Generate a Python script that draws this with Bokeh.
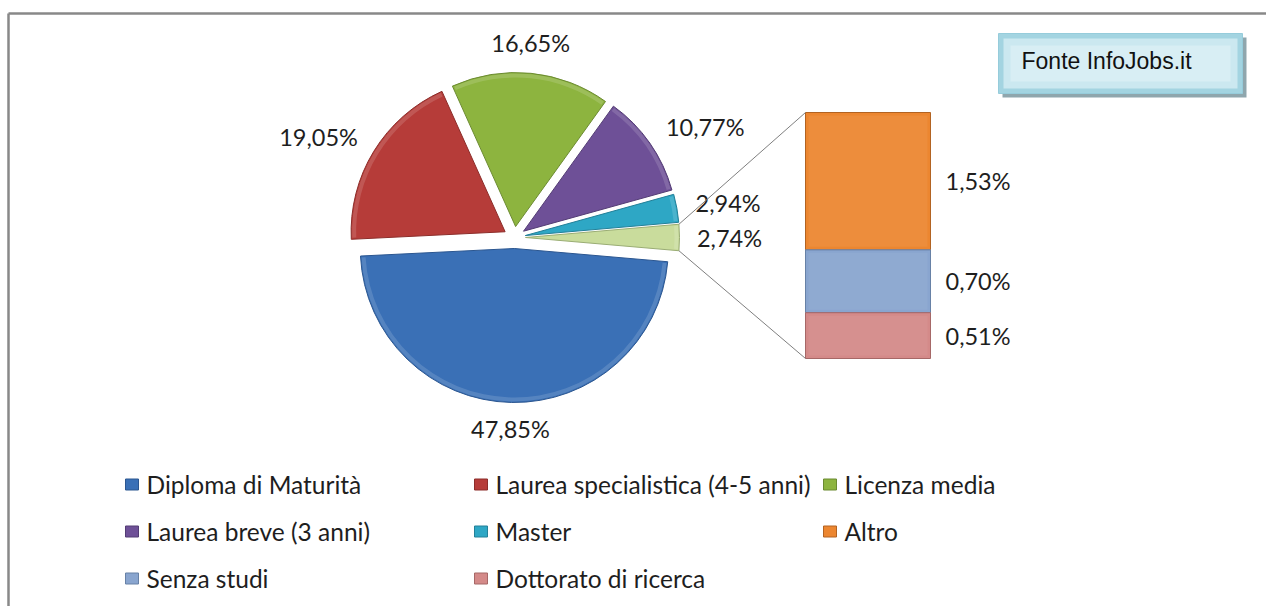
import math
from bokeh.plotting import figure
from bokeh.models import Range1d
from bokeh.embed import file_html
from bokeh.resources import INLINE
from bokeh.core.properties import value

# ---------------- data ----------------
pie_names = ["Diploma di Maturità", "Laurea specialistica (4-5 anni)", "Licenza media",
             "Laurea breve (3 anni)", "Master"]
pie_values = [47.85, 19.05, 16.65, 10.77, 2.94]
other_value = 2.74
bar_names = ["Altro", "Senza studi", "Dottorato di ricerca"]
bar_values = [1.53, 0.70, 0.51]
legend_order = ["Diploma di Maturità", "Laurea specialistica (4-5 anni)", "Licenza media",
                "Laurea breve (3 anni)", "Master", "Altro", "Senza studi", "Dottorato di ricerca"]
source_note = "Fonte InfoJobs.it"

# ---------------- styles ----------------
pie_colors = ["#3A70B6", "#B63C39", "#8DB43F", "#6E5097", "#2EA7C5"]
pie_edges = ["#2B5690", "#8C2D2A", "#6B8A31", "#533C74", "#238098"]
other_color = "#C9DC9C"
other_edge = "#9AAD74"
bar_colors = ["#EC8630", "#89A5CF", "#D48A89"]
bar_edges = ["#B26322", "#6781A6", "#A66867"]
label_nudge = [(0, 0), (-7, 0), (-6, -3), (9, -1), (2, 0), (0, 0)]  # screen px

W, H = 1266, 606
FONT = "Lato"
LABEL_SIZE = "23.5px"
LEGEND_SIZE = "24.5px"
TEXT_COLOR = "#1E1E1E"


def sy(y):
    """screen y (down) -> data y (up)"""
    return H - y


def fmt(v):
    return f"{v:.2f}%".replace(".", ",")


p = figure(width=W, height=H, output_backend="svg", toolbar_location=None,
           x_range=Range1d(0, W), y_range=Range1d(0, H),
           x_axis_location=None, y_axis_location=None, min_border=0)
p.grid.visible = False
p.outline_line_color = None
p.background_fill_color = "white"
p.border_fill_color = "white"

# chart-area frame (top and left edges visible)
p.segment(x0=[8, 8], y0=[sy(13), sy(13)], x1=[W, 8], y1=[sy(13), 0],
          line_color="#888888", line_width=2.5)

# ---------------- pie ----------------
cx, cy = 514, sy(237)
R = 154
EXP = 11

half = other_value / 100 * math.pi
wedges = [(other_value, other_color, other_edge, -half, half)]
a = half
for v, c, e in zip(pie_values[::-1], pie_colors[::-1], pie_edges[::-1]):
    span = v / 100 * 2 * math.pi
    wedges.append((v, c, e, a, a + span))
    a += span
# order wedges as pie_values + other for labels
wedges = wedges[1:][::-1] + [wedges[0]]

xs, ys, st, en, fc, lc, mids = [], [], [], [], [], [], []
for v, c, e, s0, s1 in wedges:
    m = (s0 + s1) / 2
    mids.append(m)
    xs.append(cx + EXP * math.cos(m))
    ys.append(cy + EXP * math.sin(m))
    st.append(s0)
    en.append(s1)
    fc.append(c)
    lc.append(e)
p.wedge(x=xs, y=ys, radius=R, start_angle=st, end_angle=en,
        fill_color=fc, line_color=lc, line_width=1)
# subtle inner highlight to imitate bevel
p.annular_wedge(x=xs, y=ys, inner_radius=R - 5, outer_radius=R - 1,
                start_angle=[s + 0.01 for s in st], end_angle=[e - 0.01 for e in en],
                fill_color="white", fill_alpha=0.14, line_color=None)

# pie labels
all_vals = pie_values + [other_value]
lx, ly, lt = [], [], []
for v, m, (nx, ny) in zip(all_vals, mids, label_nudge):
    txt = fmt(v)
    ux, uy = math.cos(m), math.sin(m)
    w = 13.2 * len(txt)
    h = 20
    r0 = R + EXP + 17
    lx.append(cx + r0 * ux + w / 2 * ux + nx)
    ly.append(cy + r0 * uy + h / 2 * uy - ny)
    lt.append(txt)
p.text(x=lx, y=ly, text=lt, text_align="center", text_baseline="middle",
       text_font=value(FONT), text_font_size=LABEL_SIZE, text_color=TEXT_COLOR)

# ---------------- bar of pie ----------------
bx0, bx1 = 805, 930
b_bottom = sy(358)
k = 246 / other_value
y0 = b_bottom
tops, bots = [], []
for v in bar_values[::-1]:
    bots.append(y0)
    y0 += v * k
    tops.append(y0)
tops, bots = tops[::-1], bots[::-1]
p.quad(left=bx0, right=bx1, bottom=bots, top=tops,
       fill_color=bar_colors, line_color=bar_edges, line_width=1)
p.quad(left=bx0 + 3, right=bx1 - 3, bottom=[b + 3 for b in bots], top=[t - 3 for t in tops],
       fill_color="white", fill_alpha=0.06, line_color=None)
p.text(x=[945] * 3, y=[(t + b) / 2 for t, b in zip(tops, bots)],
       text=[fmt(v) for v in bar_values], text_align="left", text_baseline="middle",
       text_font=value(FONT), text_font_size=LABEL_SIZE, text_color=TEXT_COLOR)

# connector lines
ox = cx + EXP + R * math.cos(half)
p.segment(x0=[ox, ox], y0=[cy + R * math.sin(half), cy - R * math.sin(half)],
          x1=[bx0, bx0], y1=[max(tops), min(bots)],
          line_color="#7F7F7F", line_width=1)

# ---------------- legend ----------------
color_of = dict(zip(pie_names, pie_colors))
color_of.update(dict(zip(bar_names, bar_colors)))
edge_of = dict(zip(pie_names, pie_edges))
edge_of.update(dict(zip(bar_names, bar_edges)))
col_x = [125, 474, 823]
row_y = [484, 531, 578]
mx, my, mc, me, tx, ty = [], [], [], [], [], []
for i, name in enumerate(legend_order):
    r, c = divmod(i, 3)
    mx.append(col_x[c] + 6.5)
    my.append(sy(row_y[r]))
    mc.append(color_of[name])
    me.append(edge_of[name])
    tx.append(col_x[c] + 21)
    ty.append(sy(row_y[r]))
p.rect(x=mx, y=my, width=13, height=11, fill_color=mc, line_color=me, line_width=1)
p.text(x=tx, y=ty, text=legend_order, text_align="left", text_baseline="middle",
       text_font=value(FONT), text_font_size=LEGEND_SIZE, text_color=TEXT_COLOR)

# ---------------- source box ----------------
p.quad(left=1002, right=1246, top=sy(37), bottom=sy(97), fill_color="#8FA6AD", line_color=None)
p.quad(left=998, right=1242, top=sy(33), bottom=sy(93), fill_color="#A3D4E1", line_color="#96CCDB")
p.quad(left=1003, right=1237, top=sy(38), bottom=sy(88), fill_color="#CBE8F0", line_color=None)
p.quad(left=1010, right=1230, top=sy(45), bottom=sy(81), fill_color="#D8EEF4", line_color=None)
p.text(x=[1021], y=[sy(60)], text=[source_note], text_align="left", text_baseline="middle",
       text_font=value("Liberation Sans"), text_font_size="23px", text_color="#111111")

open("out.html", "w").write(file_html(p, INLINE))
